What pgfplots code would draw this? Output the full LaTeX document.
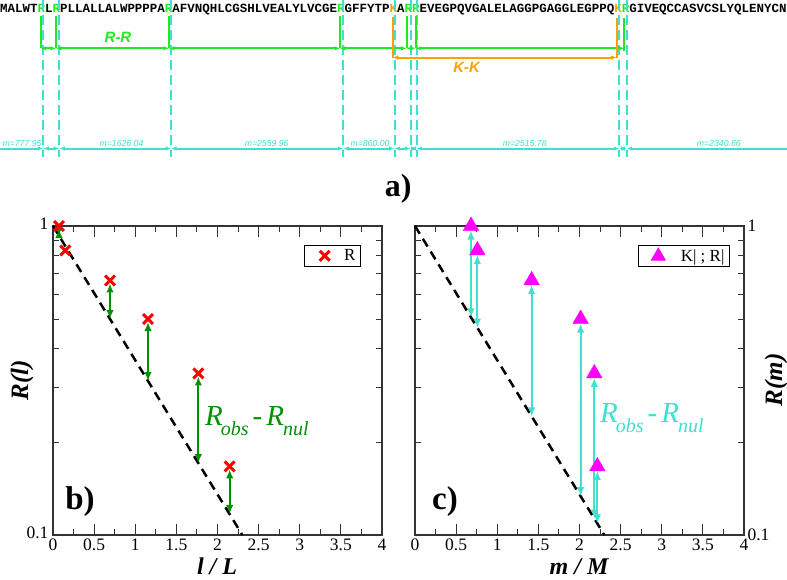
\documentclass[border=0pt]{standalone}
\usepackage{pgfplots}
\pgfplotsset{compat=1.18}
\usepackage{fontspec}
\setmainfont{Liberation Serif}
\newfontfamily\seqfont{Liberation Mono}
\newfontfamily\labsans{Liberation Sans}
\usetikzlibrary{arrows.meta}
\definecolor{rgreen}{RGB}{30,235,30}
\definecolor{korange}{RGB}{255,160,0}
\definecolor{turq}{RGB}{64,224,208}
\definecolor{dgreen}{RGB}{0,145,0}
\definecolor{mag}{RGB}{255,0,255}
\tikzset{dbl/.style={{Latex[length=5.5pt,width=4.5pt]}-{Latex[length=5.5pt,width=4.5pt]}},
  rar/.style={-{Latex[length=5.5pt,width=4.5pt]}},
  lar/.style={{Latex[length=5.5pt,width=4.5pt]}-},
  pdbl/.style={{Latex[length=9pt,width=7.5pt]}-{Latex[length=9pt,width=7.5pt]}}}
\newcommand{\robs}{R\kern-2pt\raisebox{-10pt}{\fontsize{20}{22}\selectfont obs}\kern4pt-\kern4pt R\kern-1pt\raisebox{-10pt}{\fontsize{20}{22}\selectfont nul}}
\begin{document}
\begin{tikzpicture}
\useasboundingbox (0pt,0pt) rectangle (787pt,579pt);
% ---------------- top panel (pixel coordinates) ----------------
\begin{axis}[at={(0pt,0pt)},anchor=south west,scale only axis,width=787pt,height=579pt,
  xmin=0,xmax=787,ymin=0,ymax=579,y dir=reverse,axis lines=none,clip=false,
  unbounded coords=jump]
\node[anchor=base west,inner sep=0pt,font=\seqfont\bfseries\fontsize{12.48}{14}\selectfont]
  at (axis cs:0,12.7) {MALWT\textcolor{rgreen}{R}L\textcolor{rgreen}{R}PLLALLALWPPPPA\textcolor{rgreen}{R}AFVNQHLCGSHLVEALYLVCGE\textcolor{rgreen}{R}GFFYTP\textcolor{korange}{K}A\textcolor{rgreen}{RR}EVEGPQVGALELAGGPGAGGLEGPPQ\textcolor{korange}{K}\textcolor{rgreen}{R}GIVEQCCASVCSLYQLENYCN};
% cleavage sites (dashed)
\addplot[turq,line width=2pt,dash pattern=on 10pt off 5pt] coordinates {
 (43.3,0)(43.3,157) (nan,nan) (59.3,0)(59.3,157) (nan,nan) (171,0)(171,157) (nan,nan)
 (343.3,0)(343.3,157) (nan,nan) (394.5,0)(394.5,157) (nan,nan) (410.5,0)(410.5,157) (nan,nan)
 (416.7,0)(416.7,157) (nan,nan) (619.3,0)(619.3,157) (nan,nan) (626.7,0)(626.7,157)};
% R markers (green)
\addplot[rgreen,line width=2pt] coordinates {
 (40.7,16)(40.7,48.3) (nan,nan) (56,16)(56,48.3) (nan,nan) (169,16)(169,48.3) (nan,nan)
 (340,16)(340,48.3) (nan,nan) (406.5,16)(406.5,48.3) (nan,nan) (415.7,16)(415.7,48.3) (nan,nan)
 (624.3,18)(624.3,51)};
\addplot[rgreen,line width=2pt,dbl] coordinates {(40.7,48.3)(56,48.3)};
\addplot[rgreen,line width=2pt,dbl] coordinates {(56,48.3)(169,48.3)};
\addplot[rgreen,line width=2pt,dbl] coordinates {(169,48.3)(340,48.3)};
\addplot[rgreen,line width=2pt,dbl] coordinates {(340,48.3)(406.5,48.3)};
\addplot[rgreen,line width=2pt,dbl] coordinates {(406.5,48.3)(415.7,48.3)};
\addplot[rgreen,line width=2pt,dbl] coordinates {(415.7,48.3)(624.3,48.3)};
% K markers (orange)
\addplot[korange,line width=2pt] coordinates {
 (392.5,17)(392.5,58) (nan,nan) (616.5,18)(616.5,58)};
\addplot[korange,line width=2pt,dbl] coordinates {(392.5,57.5)(616.5,57.5)};
% fragments (cyan)
\addplot[turq,line width=2pt,rar] coordinates {(0,148.5)(43.3,148.5)};
\addplot[turq,line width=2pt,dbl] coordinates {(43.3,148.5)(59.3,148.5)};
\addplot[turq,line width=2pt,dbl] coordinates {(59.3,148.5)(171,148.5)};
\addplot[turq,line width=2pt,dbl] coordinates {(171,148.5)(343.3,148.5)};
\addplot[turq,line width=2pt,dbl] coordinates {(343.3,148.5)(394.5,148.5)};
\addplot[turq,line width=2pt,dbl] coordinates {(394.5,148.5)(410.5,148.5)};
\addplot[turq,line width=2pt,dbl] coordinates {(410.5,148.5)(416.7,148.5)};
\addplot[turq,line width=2pt,dbl] coordinates {(416.7,148.5)(619.3,148.5)};
\addplot[turq,line width=2pt,dbl] coordinates {(619.3,148.5)(626.7,148.5)};
\addplot[turq,line width=2pt,lar] coordinates {(626.7,148.5)(787,148.5)};
\node[anchor=base,text=rgreen,font=\labsans\bfseries\itshape\fontsize{15}{17}\selectfont] at (axis cs:118,42.3) {R-R};
\node[anchor=base,text=korange,font=\labsans\bfseries\itshape\fontsize{15}{17}\selectfont] at (axis cs:466.7,72.7) {K-K};
\node[anchor=base,text=turq,inner sep=0pt,font=\labsans\itshape\fontsize{8.7}{10}\selectfont] at (axis cs:22,146) {m=777.95};
\node[anchor=base,text=turq,inner sep=0pt,font=\labsans\itshape\fontsize{8.7}{10}\selectfont] at (axis cs:121.5,146) {m=1626.04};
\node[anchor=base,text=turq,inner sep=0pt,font=\labsans\itshape\fontsize{8.7}{10}\selectfont] at (axis cs:266.7,146) {m=2559.96};
\node[anchor=base,text=turq,inner sep=0pt,font=\labsans\itshape\fontsize{8.7}{10}\selectfont] at (axis cs:370,146) {m=860.00};
\node[anchor=base,text=turq,inner sep=0pt,font=\labsans\itshape\fontsize{8.7}{10}\selectfont] at (axis cs:524.7,146) {m=2515.78};
\node[anchor=base,text=turq,inner sep=0pt,font=\labsans\itshape\fontsize{8.7}{10}\selectfont] at (axis cs:718.8,146) {m=2340.66};
\node[anchor=base,inner sep=0pt,font=\bfseries\fontsize{32}{36}\selectfont] at (axis cs:398.3,196.7) {a)};
\node[anchor=base,inner sep=0pt,font=\bfseries\fontsize{33}{36}\selectfont] at (axis cs:80,509) {b)};
\node[anchor=base,inner sep=0pt,font=\bfseries\fontsize{33}{36}\selectfont] at (axis cs:445,509) {c)};
\node[rotate=90,inner sep=0pt,font=\bfseries\itshape\fontsize{25}{28}\selectfont] at (axis cs:22,380) {R(l)};
\node[rotate=90,inner sep=0pt,font=\bfseries\itshape\fontsize{25}{28}\selectfont] at (axis cs:776,380) {R(m)};
\node[anchor=base,inner sep=0pt,font=\bfseries\itshape\fontsize{24}{27}\selectfont] at (axis cs:217,574.5) {l / L};
\node[anchor=base,inner sep=0pt,font=\bfseries\itshape\fontsize{24}{27}\selectfont] at (axis cs:579,574.5) {m / M};
\node[anchor=base west,inner sep=0pt,text=dgreen,font=\itshape\fontsize{29}{32}\selectfont] at (axis cs:205,425) {\robs};
\node[anchor=base west,inner sep=0pt,text=turq,font=\itshape\fontsize{29}{32}\selectfont] at (axis cs:600,422) {\robs};
\end{axis}
% ---------------- panel b ----------------
\begin{axis}[ymode=log,at={(53pt,44pt)},anchor=south west,
  scale only axis,width=329pt,height=309pt,
  xmin=0,xmax=4,ymin=0.1,ymax=1,
  xtick={0,0.5,1,1.5,2,2.5,3,3.5,4},xticklabels={0,0.5,1,1.5,2,2.5,3,3.5,4},
  minor xtick={0.25,0.75,1.25,1.75,2.25,2.75,3.25,3.75},
  ytick={0.1,1},yticklabels={0.1,1},
  minor ytick={0.2,0.3,0.4,0.5,0.6,0.7,0.8,0.9},
  tick align=inside,major tick length=11pt,minor tick length=6pt,
  axis line style={line width=1.2pt,black!80},
  every tick/.style={line width=1pt,black!80},
  tick label style={font=\fontsize{17.5}{20}\selectfont},
  /pgf/number format/assume math mode=true,
  clip=false,
  yticklabel style={xshift=-1pt,yshift=2pt},
  legend cell align=left,
  legend style={draw=black,line width=0.9pt,inner xsep=3pt,inner ysep=2pt,
    font=\fontsize{17}{19}\selectfont,at={(rel axis cs:0.936,0.9385)},anchor=north east}]
\addplot[black,line width=2.5pt,dash pattern=on 9pt off 6pt,forget plot] coordinates {(0,1) (2.3026,0.1)};
\addplot[dgreen,line width=2pt,pdbl,shorten <=3pt,forget plot] coordinates {(0.073,1) (0.073,0.930)};
\addplot[dgreen,line width=2pt,pdbl,shorten <=3pt,forget plot] coordinates {(0.693,0.6667) (0.693,0.500)};
\addplot[dgreen,line width=2pt,pdbl,shorten <=3pt,forget plot] coordinates {(1.155,0.5) (1.155,0.315)};
\addplot[dgreen,line width=2pt,pdbl,shorten <=3pt,forget plot] coordinates {(1.767,0.3333) (1.767,0.171)};
\addplot[dgreen,line width=2pt,pdbl,shorten <=3pt,forget plot] coordinates {(2.148,0.1667) (2.148,0.117)};
\addplot[only marks,mark=x,mark size=7pt,red,line width=3pt,
  legend image code/.code={\draw[red,line width=3pt,mark=x,mark size=7pt,only marks] plot coordinates {(16pt,0pt)}; \path (0pt,0pt) (32pt,0pt);}] coordinates {
 (0.073,1) (0.15,0.8333) (0.693,0.6667) (1.155,0.5) (1.767,0.3333) (2.148,0.1667)};
\addlegendentry{R}
\end{axis}
% ---------------- panel c ----------------
\begin{axis}[ymode=log,at={(415pt,44pt)},anchor=south west,
  scale only axis,width=329pt,height=309pt,
  xmin=0,xmax=4,ymin=0.1,ymax=1,
  xtick={0,0.5,1,1.5,2,2.5,3,3.5,4},xticklabels={0,0.5,1,1.5,2,2.5,3,3.5,4},
  minor xtick={0.25,0.75,1.25,1.75,2.25,2.75,3.25,3.75},
  ytick={0.1,1},yticklabels={0.1,1},
  minor ytick={0.2,0.3,0.4,0.5,0.6,0.7,0.8,0.9},
  tick align=inside,major tick length=11pt,minor tick length=6pt,
  axis line style={line width=1.2pt,black!80},
  every tick/.style={line width=1pt,black!80},
  tick label style={font=\fontsize{17.5}{20}\selectfont},
  /pgf/number format/assume math mode=true,
  clip=false,
  yticklabel pos=right,
  legend cell align=left,
  legend style={draw=black,line width=0.9pt,inner xsep=3pt,inner ysep=2pt,
    font=\fontsize{17}{19}\selectfont,at={(rel axis cs:0.957,0.9385)},anchor=north east}]
\addplot[black,line width=2.5pt,dash pattern=on 9pt off 6pt,forget plot] coordinates {(0,1) (2.3026,0.1)};
\addplot[turq,line width=2pt,pdbl,shorten <=4.5pt,forget plot] coordinates {(0.681,1) (0.681,0.506)};
\addplot[turq,line width=2pt,pdbl,shorten <=4.5pt,forget plot] coordinates {(0.758,0.8333) (0.758,0.469)};
\addplot[turq,line width=2pt,pdbl,shorten <=4.5pt,forget plot] coordinates {(1.418,0.6667) (1.418,0.242)};
\addplot[turq,line width=2pt,pdbl,shorten <=4.5pt,forget plot] coordinates {(2.014,0.5) (2.014,0.1335)};
\addplot[turq,line width=2pt,pdbl,shorten <=4.5pt,forget plot] coordinates {(2.18,0.3333) (2.18,0.113)};
\addplot[turq,line width=2pt,pdbl,shorten <=4.5pt,forget plot] coordinates {(2.217,0.1667) (2.217,0.109)};
\addplot[only marks,mark=triangle*,mark size=9pt,mag,draw=mag,fill=mag,
  legend image code/.code={\draw[mag,fill=mag,mark=triangle*,mark size=8pt,only marks] plot coordinates {(16pt,0pt)}; \path (0pt,0pt) (36pt,0pt);}] coordinates {
 (0.681,1) (0.758,0.8333) (1.418,0.6667) (2.014,0.5) (2.18,0.3333) (2.217,0.1667)};
\addlegendentry{K| ; R|}
\end{axis}
\end{tikzpicture}
\end{document}
